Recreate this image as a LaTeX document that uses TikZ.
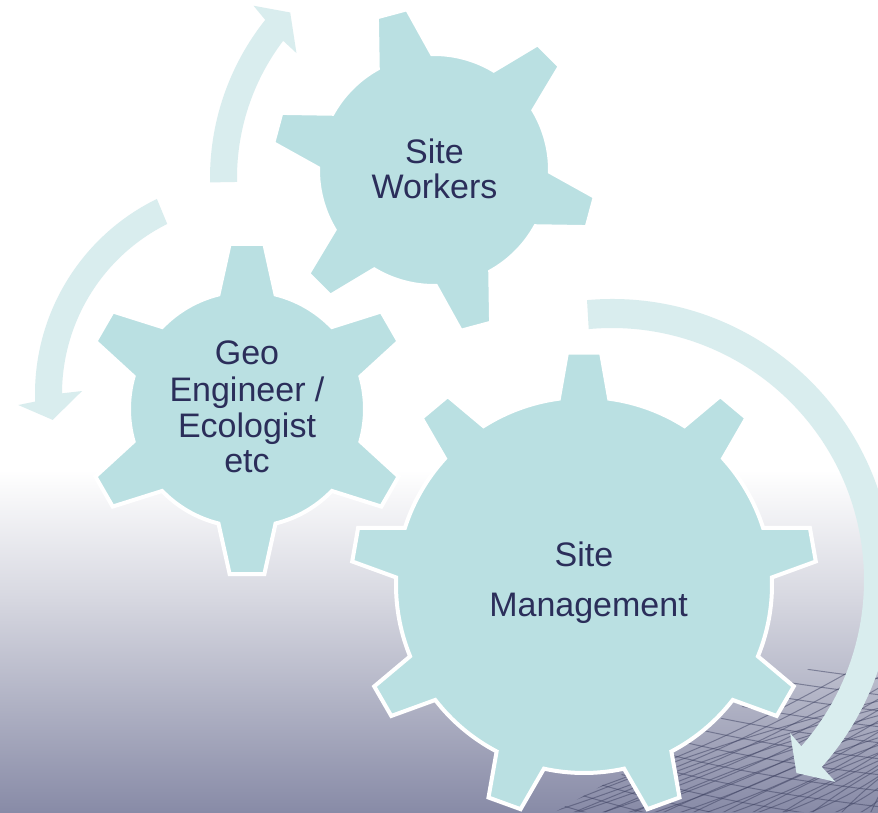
\documentclass[tikz,border=0pt]{standalone}
\usepackage{fontspec}
\setmainfont{Liberation Sans}
\definecolor{gearfill}{RGB}{186,224,226}
\definecolor{arrowfill}{RGB}{217,237,238}
\definecolor{txtc}{RGB}{43,46,90}
\definecolor{bgmid}{RGB}{214,215,224}
\definecolor{bgbot}{RGB}{136,139,167}
\definecolor{meshc}{RGB}{62,66,98}
\tikzset{
  gearshape/.style={fill=gearfill, draw=white, line width=4pt, line join=miter},
  arrowshape/.style={fill=arrowfill, draw=none},
  lbl/.style={anchor=base, inner sep=0pt, text=txtc, font=\fontsize{34}{36}\selectfont},
  meshline/.style={draw=meshc, line width=1pt, opacity=0.5}
}
\newcommand{\drawgear}[8]{%
  \begin{scope}[shift={(#1,#2)}]
    \pgfmathsetmacro\gstep{360/#5}
    \pgfmathtruncatemacro\glast{#5-1}
    \filldraw[gearshape] ({#6-#7}:#3)
      \foreach \k in {0,...,\glast} {
        -- ({#6+\k*\gstep-#8}:#4) -- ({#6+\k*\gstep+#8}:#4) -- ({#6+\k*\gstep+#7}:#3)
        arc[start angle={#6+\k*\gstep+#7}, end angle={#6+(\k+1)*\gstep-#7}, radius=#3]
      } -- cycle;
  \end{scope}}
\begin{document}
\begin{tikzpicture}[x=1pt,y=1pt]
  \useasboundingbox (0,0) rectangle (878,812);
  % background
  \fill[white] (0,0) rectangle (878,812);
  \shade[top color=white, bottom color=bgmid] (0,211.5) rectangle (878,342);
  \shade[top color=bgmid, bottom color=bgbot] (0,0) rectangle (878,212);
  % mesh in lower right
  \begin{scope}
    \clip (555,0) -- (878,182) -- (878,0) -- cycle;
    \foreach \i in {0,...,14} {
      \draw[meshline] ({520+26*\i},-2) to[bend right=6] (890,{(370-26*\i)*0.42+8});
    }
    \foreach \i in {0,...,12} {
      \draw[meshline] ({540+30*\i},-2) to[bend left=4] (890,{(350-30*\i)*0.24+30});
    }
    \foreach \i in {0,...,12} {
      \draw[meshline] (550,{10+16*\i}) to[bend right=5] (890,{-60+16*\i});
    }
  \end{scope}
  % arrows
  \begin{scope}[shift={(464,634)}]
    \fill[arrowshape] (181:254) arc[start angle=181, end angle=141.5, radius=254]
      -- (140.7:272) -- (136.4:240) -- (143.3:209) -- (142.8:227)
      arc[start angle=142.8, end angle=181, radius=227] -- cycle;
  \end{scope}
  \begin{scope}[shift={(252,418)}]
    \fill[arrowshape] (116:217) arc[start angle=116, end angle=182, radius=217]
      -- (182.7:234) -- (187.4:201) -- (179:170) -- (179.8:190)
      arc[start angle=179.8, end angle=116.5, radius=190] -- cycle;
  \end{scope}
  \begin{scope}[shift={(612,232)}]
    \fill[arrowshape] (95.1:281) arc[start angle=95.1, end angle=-41.7, radius=281]
      -- (-42.1:301) -- (-46.3:267) -- (-40.7:235) -- (-41.3:252)
      arc[start angle=-41.3, end angle=95.3, radius=252] -- cycle;
  \end{scope}
  % gears
  \drawgear{434}{642}{116}{163}{6}{105}{14}{5.5}
  \drawgear{247}{403}{118}{166}{6}{90}{14}{6}
  \drawgear{584}{227}{188}{233}{9}{90}{7.7}{4.2}
  % labels
  \node[lbl] (w1) at (434.5,648) {Site};
  \node[lbl] (w2) at (434.5,613) {Workers};
  \node[lbl] (g1) at (247,447) {Geo};
  \node[lbl] (g2) at (247,410.3) {Engineer /};
  \node[lbl] (g3) at (247,374.3) {Ecologist};
  \node[lbl] (g4) at (247,339.3) {etc};
  \node[lbl] (m1) at (584,246) {Site};
  \node[lbl] (m2) at (588.5,196) {Management};
\end{tikzpicture}
\end{document}
